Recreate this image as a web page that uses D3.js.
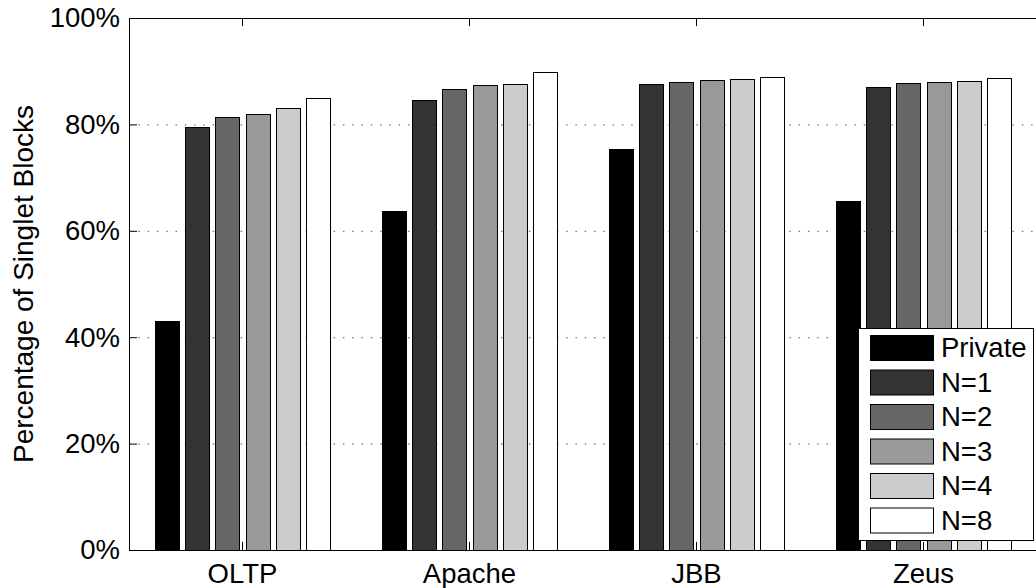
<!DOCTYPE html>
<html>
<head>
<meta charset="utf-8">
<script src="https://cdn.jsdelivr.net/npm/d3@7"></script>
<style>
  body { margin: 0; background: #fff; }
  svg text { font-family: "Liberation Sans", Arial, Helvetica, sans-serif; fill: #000; }
</style>
</head>
<body>
<div id="main"></div>
<script>
var width = 1036,
    height = 588;

// data
var workloads = ["OLTP", "Apache", "JBB", "Zeus"];
var series = ["Private", "N=1", "N=2", "N=3", "N=4", "N=8"];
var colors = ["#000000", "#333333", "#666666", "#999999", "#cccccc", "#ffffff"];
var privateVals = [43.0, 63.7, 75.4, 65.6];
var n1Vals = [79.5, 84.5, 87.6, 87.0];
var n2Vals = [81.3, 86.6, 87.9, 87.8];
var n3Vals = [82.0, 87.4, 88.3, 88.0];
var n4Vals = [83.0, 87.6, 88.5, 88.1];
var n8Vals = [84.9, 89.8, 89.0, 88.7];
var yTicks = [0, 20, 40, 60, 80, 100];

var allVals = [privateVals, n1Vals, n2Vals, n3Vals, n4Vals, n8Vals];

var margin = {left: 129, top: 18, right: 1037, bottom: 550};
var fontSize = "27.5px";

var svg = d3.select("#main").append("svg")
    .attr("width", width)
    .attr("height", height);

var x0 = d3.scaleBand()
    .domain(workloads)
    .range([margin.left, margin.right])
    .paddingInner(0.2)
    .paddingOuter(0.1);

var x1 = d3.scaleBand()
    .domain(series)
    .range([0, x0.bandwidth()])
    .paddingInner(0.2)
    .paddingOuter(0.1);

var y = d3.scaleLinear()
    .domain([0, 100])
    .range([margin.bottom, margin.top]);

// dotted grid
svg.append("g").selectAll("line")
    .data(yTicks.filter(function(t) { return t > 0 && t < 100; }))
    .enter().append("line")
    .attr("x1", margin.left)
    .attr("x2", margin.right)
    .attr("y1", function(d) { return y(d) + 0.5; })
    .attr("y2", function(d) { return y(d) + 0.5; })
    .attr("stroke", "#555")
    .attr("stroke-width", 1)
    .attr("stroke-dasharray", "1.5,7.8");

// bars
var rows = [];
workloads.forEach(function(w, i) {
  series.forEach(function(s, j) {
    rows.push({w: w, s: s, v: allVals[j][i], c: colors[j]});
  });
});

svg.append("g").selectAll("rect")
    .data(rows)
    .enter().append("rect")
    .attr("x", function(d) { return Math.round(x0(d.w) + x1(d.s)) + 0.5; })
    .attr("y", function(d) { return Math.round(y(d.v)) + 0.5; })
    .attr("width", function(d) { return Math.round(x1.bandwidth()); })
    .attr("height", function(d) { return margin.bottom - Math.round(y(d.v)); })
    .attr("fill", function(d) { return d.c; })
    .attr("stroke", "#000")
    .attr("stroke-width", 1);

// axes, ticks inside
var yAxis = d3.axisLeft(y)
    .tickValues(yTicks)
    .tickFormat(function(d) { return d + "%"; })
    .tickSizeInner(-8)
    .tickSizeOuter(0)
    .tickPadding(9);

var gy = svg.append("g")
    .attr("transform", "translate(" + margin.left + ",0)")
    .call(yAxis);
gy.select(".domain").remove();
gy.selectAll("text").style("font-size", fontSize);

var xAxis = d3.axisBottom(x0)
    .tickSizeInner(-8)
    .tickSizeOuter(0)
    .tickPadding(13.5);

var gx = svg.append("g")
    .attr("transform", "translate(0," + margin.bottom + ")")
    .call(xAxis);
gx.select(".domain").remove();
gx.selectAll("text").style("font-size", fontSize);

// top ticks
svg.append("g").selectAll("line")
    .data(workloads)
    .enter().append("line")
    .attr("x1", function(d) { return x0(d) + x0.bandwidth() / 2; })
    .attr("x2", function(d) { return x0(d) + x0.bandwidth() / 2; })
    .attr("y1", margin.top)
    .attr("y2", margin.top + 8)
    .attr("stroke", "#000");

// frame
svg.append("rect")
    .attr("x", margin.left + 0.5)
    .attr("y", margin.top + 0.5)
    .attr("width", margin.right - margin.left)
    .attr("height", margin.bottom - margin.top)
    .attr("fill", "none")
    .attr("stroke", "#000")
    .attr("stroke-width", 1);

// y label
svg.append("text")
    .attr("transform", "translate(33," + (margin.top + margin.bottom) / 2 + ")rotate(-90)")
    .attr("text-anchor", "middle")
    .style("font-size", "28px")
    .text("Percentage of Singlet Blocks");

// legend
var legend = svg.append("g").attr("class", "legend");
legend.append("rect")
    .attr("x", 858.5)
    .attr("y", 328.5)
    .attr("width", 175)
    .attr("height", 212)
    .attr("fill", "#fff")
    .attr("stroke", "#000");

var items = legend.selectAll("g.item")
    .data(series)
    .enter().append("g")
    .attr("class", "item")
    .attr("transform", function(d, i) { return "translate(0," + (348 + i * 34.5) + ")"; });

items.append("rect")
    .attr("x", 870.5)
    .attr("y", -12.5)
    .attr("width", 63)
    .attr("height", 25)
    .attr("fill", function(d, i) { return colors[i]; })
    .attr("stroke", "#000");

items.append("text")
    .attr("x", 941)
    .attr("y", 9)
    .style("font-size", fontSize)
    .text(function(d) { return d; });
</script>
</body>
</html>
